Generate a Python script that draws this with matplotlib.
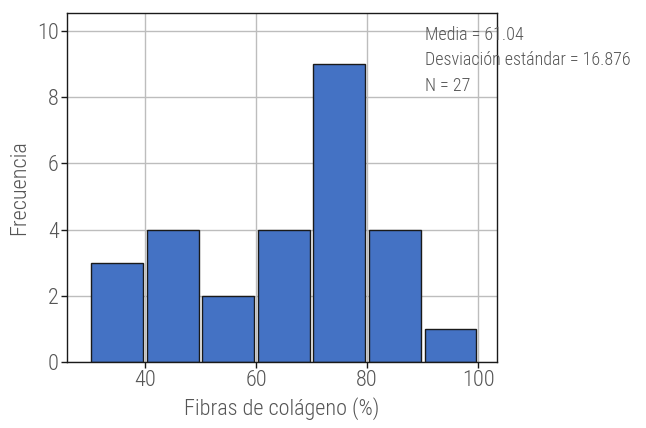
import matplotlib
matplotlib.use("Agg")
import matplotlib.pyplot as plt
from matplotlib import font_manager

names = {f.name for f in font_manager.fontManager.ttflist}
fam = [n for n in ["Liberation Sans Narrow", "Roboto Condensed", "Liberation Sans"] if n in names] + ["DejaVu Sans"]
plt.rcParams['font.family'] = fam
plt.rcParams['font.weight'] = 'light'
plt.rcParams['axes.labelweight'] = 'light'

bin_edges = [30, 40, 50, 60, 70, 80, 90, 100]
counts = [3, 4, 2, 4, 9, 4, 1]
xticks = [40, 60, 80, 100]
yticks = [0, 2, 4, 6, 8, 10]
stats_lines = ["Media = 61.04", "Desviación estándar = 16.876", "N = 27"]

fig = plt.figure(figsize=(6.46, 4.28), dpi=100)
ax = fig.add_axes([0.1037, 0.154, 0.6656, 0.8145])

centers = [(a + b) / 2 for a, b in zip(bin_edges[:-1], bin_edges[1:])]
widths = [(b - a) * 0.93 for a, b in zip(bin_edges[:-1], bin_edges[1:])]
ax.bar(centers, counts, width=widths, color="#4472C4", edgecolor="#1a1a1a", linewidth=1.0, zorder=2)

ax.set_xlim(25.95, 103.4)
ax.set_ylim(0, 10.52)
ax.set_xticks(xticks)
ax.set_yticks(yticks)
ax.grid(True, color="#bdbdbd", linewidth=1.0, zorder=0)
ax.set_axisbelow(True)
for s in ax.spines.values():
    s.set_color("#1a1a1a")
    s.set_linewidth(1.0)
ax.tick_params(direction="out", length=4, width=1, color="#1a1a1a", labelcolor="#555555", labelsize=16, pad=2)

ax.set_xlabel("Fibras de colágeno (%)", color="#555555", fontsize=16, labelpad=4, fontweight="light")
ax.set_ylabel("Frecuencia", color="#555555", fontsize=16, labelpad=5, fontweight="light")

for i, line in enumerate(stats_lines):
    ax.text(0.833, 0.939 - i * 0.073, line, transform=ax.transAxes, ha="left", va="center",
            color="#555555", fontsize=13, clip_on=False, zorder=5, fontweight="light")

fig.savefig("out.png", dpi=100)
